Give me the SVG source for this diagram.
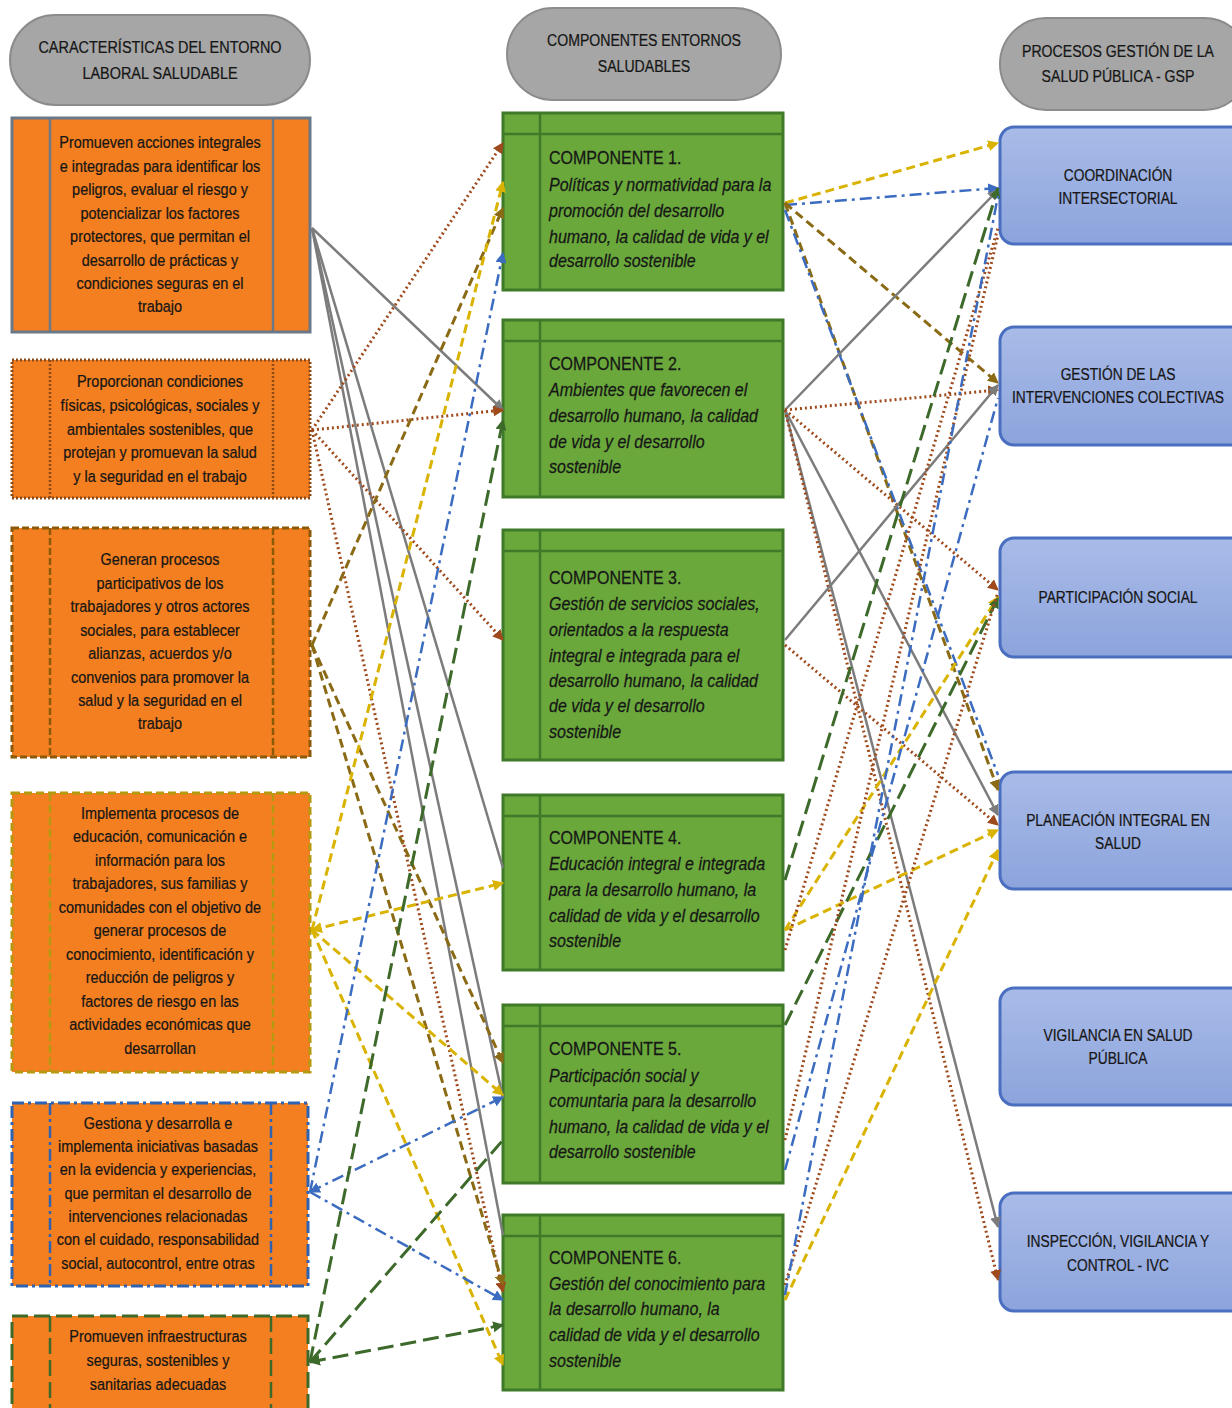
<svg xmlns="http://www.w3.org/2000/svg" width="1232" height="1408" viewBox="0 0 1232 1408">
<defs>
<style>
.t{font-family:"Liberation Sans",Arial,sans-serif;font-size:17px;fill:#161616;stroke:#161616;stroke-width:0.25;text-anchor:middle}
.tm{font-family:"Liberation Sans",Arial,sans-serif;font-size:18px;fill:#161616;stroke:#161616;stroke-width:0.25}
.it{font-style:italic}
.hdr{fill:#a6a6a6;stroke:#8c8c8c;stroke-width:2}
.or{fill:#f47f20}
.gr{fill:#6aa83c;stroke:#3f7a28;stroke-width:3}
.grl{stroke:#3f7a28;stroke-width:2.5;fill:none}
.bl{fill:url(#bg);stroke:#4a6fc0;stroke-width:3}
.g{stroke:#7c7c7c;stroke-width:2.5;fill:none}
.dot{stroke:#9e4a1c;stroke-width:3;stroke-dasharray:2 3;fill:none}
.od{stroke:#8a6a14;stroke-width:3;stroke-dasharray:9 5;fill:none}
.yd{stroke:#d9b300;stroke-width:3;stroke-dasharray:9 5;fill:none}
.bd{stroke:#3b6cc0;stroke-width:2.5;stroke-dasharray:12 5 3 5;fill:none}
.gd{stroke:#3d6a2a;stroke-width:3;stroke-dasharray:16 7;fill:none}
</style>
<linearGradient id="bg" x1="0" y1="0" x2="0" y2="1"><stop offset="0" stop-color="#a9bbe8"/><stop offset="1" stop-color="#8ca4dc"/></linearGradient>
<marker id="mg" viewBox="0 0 10 10" refX="9" refY="5" markerWidth="11" markerHeight="11" markerUnits="userSpaceOnUse" orient="auto-start-reverse"><path d="M0,0 L10,5 L0,10 z" fill="#7c7c7c"/></marker>
<marker id="mdot" viewBox="0 0 10 10" refX="9" refY="5" markerWidth="11" markerHeight="11" markerUnits="userSpaceOnUse" orient="auto-start-reverse"><path d="M0,0 L10,5 L0,10 z" fill="#9e4a1c"/></marker>
<marker id="mod" viewBox="0 0 10 10" refX="9" refY="5" markerWidth="11" markerHeight="11" markerUnits="userSpaceOnUse" orient="auto-start-reverse"><path d="M0,0 L10,5 L0,10 z" fill="#8a6a14"/></marker>
<marker id="myd" viewBox="0 0 10 10" refX="9" refY="5" markerWidth="11" markerHeight="11" markerUnits="userSpaceOnUse" orient="auto-start-reverse"><path d="M0,0 L10,5 L0,10 z" fill="#d9b300"/></marker>
<marker id="mbd" viewBox="0 0 10 10" refX="9" refY="5" markerWidth="11" markerHeight="11" markerUnits="userSpaceOnUse" orient="auto-start-reverse"><path d="M0,0 L10,5 L0,10 z" fill="#3b6cc0"/></marker>
<marker id="mgd" viewBox="0 0 10 10" refX="9" refY="5" markerWidth="11" markerHeight="11" markerUnits="userSpaceOnUse" orient="auto-start-reverse"><path d="M0,0 L10,5 L0,10 z" fill="#3d6a2a"/></marker>
</defs>
<rect width="1232" height="1408" fill="#ffffff"/>

<!-- headers -->
<g id="hdr-left">
<rect class="hdr" x="10" y="15" width="300" height="90" rx="45"/>
<text class="t" transform="matrix(0.85 0 0 1 160 0)"><tspan x="0" y="53">CARACTERÍSTICAS  DEL ENTORNO</tspan><tspan x="0" y="79">LABORAL  SALUDABLE</tspan></text>
</g>
<g id="hdr-mid">
<rect class="hdr" x="507" y="8" width="274" height="92" rx="46"/>
<text class="t" transform="matrix(0.83 0 0 1 644 0)"><tspan x="0" y="46">COMPONENTES ENTORNOS</tspan><tspan x="0" y="72">SALUDABLES</tspan></text>
</g>
<g id="hdr-right">
<rect class="hdr" x="1000" y="18" width="250" height="92" rx="46"/>
<text class="t" transform="matrix(0.83 0 0 1 1118 0)"><tspan x="0" y="57">PROCESOS GESTIÓN DE LA</tspan><tspan x="0" y="82">SALUD PÚBLICA - GSP</tspan></text>
</g>

<!-- left boxes -->
<g id="L1">
<rect class="or" x="12" y="118" width="298" height="214" stroke="#6b7888" stroke-width="3"/>
<path d="M50,118V332M273,118V332" stroke="#6b7888" stroke-width="2.5"/>
<text class="t" transform="matrix(0.85 0 0 1 160 0)"><tspan x="0" y="148">Promueven acciones integrales</tspan><tspan x="0" y="172">e integradas para identificar los</tspan><tspan x="0" y="195">peligros, evaluar el riesgo y</tspan><tspan x="0" y="219">potencializar los factores</tspan><tspan x="0" y="242">protectores, que permitan el</tspan><tspan x="0" y="266">desarrollo de prácticas y</tspan><tspan x="0" y="289">condiciones seguras en el</tspan><tspan x="0" y="312">trabajo</tspan></text>
</g>
<g id="L2">
<rect class="or" x="12" y="360" width="298" height="138" stroke="#8b4a1a" stroke-width="3" stroke-dasharray="2 2"/>
<path d="M50,360V498M273,360V498" stroke="#8b4a1a" stroke-width="2.5" stroke-dasharray="2 2"/>
<text class="t" transform="matrix(0.85 0 0 1 160 0)"><tspan x="0" y="387">Proporcionan condiciones</tspan><tspan x="0" y="411">físicas, psicológicas, sociales y</tspan><tspan x="0" y="435">ambientales sostenibles, que</tspan><tspan x="0" y="458">protejan y promuevan la salud</tspan><tspan x="0" y="482">y la seguridad en el trabajo</tspan></text>
</g>
<g id="L3">
<rect class="or" x="12" y="528" width="298" height="229" stroke="#8a5a08" stroke-width="3" stroke-dasharray="7 3"/>
<path d="M50,528V757M273,528V757" stroke="#8a5a08" stroke-width="2.5" stroke-dasharray="7 3"/>
<text class="t" transform="matrix(0.85 0 0 1 160 0)"><tspan x="0" y="565">Generan procesos</tspan><tspan x="0" y="589">participativos de los</tspan><tspan x="0" y="612">trabajadores y otros actores</tspan><tspan x="0" y="636">sociales, para establecer</tspan><tspan x="0" y="659">alianzas, acuerdos y/o</tspan><tspan x="0" y="683">convenios para promover la</tspan><tspan x="0" y="706">salud y la seguridad en el</tspan><tspan x="0" y="729">trabajo</tspan></text>
</g>
<g id="L4">
<rect class="or" x="12" y="793" width="298" height="279" stroke="#b39a10" stroke-width="3" stroke-dasharray="8 4"/>
<path d="M50,793V1072M273,793V1072" stroke="#b39a10" stroke-width="2.5" stroke-dasharray="8 4"/>
<text class="t" transform="matrix(0.85 0 0 1 160 0)"><tspan x="0" y="819">Implementa procesos de</tspan><tspan x="0" y="842">educación, comunicación e</tspan><tspan x="0" y="866">información para los</tspan><tspan x="0" y="889">trabajadores, sus familias y</tspan><tspan x="0" y="913">comunidades con el objetivo de</tspan><tspan x="0" y="936">generar procesos de</tspan><tspan x="0" y="960">conocimiento, identificación y</tspan><tspan x="0" y="983">reducción de peligros y</tspan><tspan x="0" y="1007">factores de riesgo en las</tspan><tspan x="0" y="1030">actividades económicas que</tspan><tspan x="0" y="1054">desarrollan</tspan></text>
</g>
<g id="L5">
<rect class="or" x="12" y="1103" width="296" height="183" stroke="#2f62b0" stroke-width="3" stroke-dasharray="12 4 3 4"/>
<path d="M50,1103V1286M271,1103V1286" stroke="#2f62b0" stroke-width="2.5" stroke-dasharray="12 4 3 4"/>
<text class="t" transform="matrix(0.85 0 0 1 158 0)"><tspan x="0" y="1129">Gestiona y desarrolla e</tspan><tspan x="0" y="1152">implementa iniciativas basadas</tspan><tspan x="0" y="1175">en la evidencia y experiencias,</tspan><tspan x="0" y="1199">que permitan el desarrollo de</tspan><tspan x="0" y="1222">intervenciones relacionadas</tspan><tspan x="0" y="1245">con el cuidado, responsabilidad</tspan><tspan x="0" y="1269">social, autocontrol, entre otras</tspan></text>
</g>
<g id="L6">
<rect class="or" x="12" y="1316" width="296" height="100" stroke="#3d6a2a" stroke-width="3" stroke-dasharray="16 6"/>
<path d="M50,1316V1408M271,1316V1408" stroke="#3d6a2a" stroke-width="2.5" stroke-dasharray="16 6"/>
<text class="t" transform="matrix(0.85 0 0 1 158 0)"><tspan x="0" y="1342">Promueven infraestructuras</tspan><tspan x="0" y="1366">seguras, sostenibles y</tspan><tspan x="0" y="1390">sanitarias adecuadas</tspan></text>
</g>

<!-- middle boxes -->
<g id="M1">
<rect class="gr" x="503" y="113" width="280" height="177"/>
<path class="grl" d="M503,134H783M540,113V290"/>
<text class="tm" transform="matrix(0.89 0 0 1 549 0)"><tspan x="0" y="164">COMPONENTE 1.</tspan><tspan class="it" x="0" y="191">Políticas y normatividad para la</tspan><tspan class="it" x="0" y="217">promoción del desarrollo</tspan><tspan class="it" x="0" y="243">humano, la calidad de vida y el</tspan><tspan class="it" x="0" y="267">desarrollo sostenible</tspan></text>
</g>
<g id="M2">
<rect class="gr" x="503" y="320" width="280" height="177"/>
<path class="grl" d="M503,341H783M540,320V497"/>
<text class="tm" transform="matrix(0.89 0 0 1 549 0)"><tspan x="0" y="370">COMPONENTE 2.</tspan><tspan class="it" x="0" y="396">Ambientes que favorecen el</tspan><tspan class="it" x="0" y="422">desarrollo humano, la calidad</tspan><tspan class="it" x="0" y="448">de vida y el desarrollo</tspan><tspan class="it" x="0" y="473">sostenible</tspan></text>
</g>
<g id="M3">
<rect class="gr" x="503" y="530" width="280" height="230"/>
<path class="grl" d="M503,551H783M540,530V760"/>
<text class="tm" transform="matrix(0.89 0 0 1 549 0)"><tspan x="0" y="584">COMPONENTE 3.</tspan><tspan class="it" x="0" y="610">Gestión de servicios sociales,</tspan><tspan class="it" x="0" y="636">orientados a la respuesta</tspan><tspan class="it" x="0" y="662">integral e integrada para el</tspan><tspan class="it" x="0" y="687">desarrollo humano, la calidad</tspan><tspan class="it" x="0" y="712">de vida y el desarrollo</tspan><tspan class="it" x="0" y="738">sostenible</tspan></text>
</g>
<g id="M4">
<rect class="gr" x="503" y="795" width="280" height="175"/>
<path class="grl" d="M503,816H783M540,795V970"/>
<text class="tm" transform="matrix(0.89 0 0 1 549 0)"><tspan x="0" y="844">COMPONENTE 4.</tspan><tspan class="it" x="0" y="870">Educación integral e integrada</tspan><tspan class="it" x="0" y="896">para la desarrollo humano, la</tspan><tspan class="it" x="0" y="922">calidad de vida y el desarrollo</tspan><tspan class="it" x="0" y="947">sostenible</tspan></text>
</g>
<g id="M5">
<rect class="gr" x="503" y="1005" width="280" height="178"/>
<path class="grl" d="M503,1026H783M540,1005V1183"/>
<text class="tm" transform="matrix(0.89 0 0 1 549 0)"><tspan x="0" y="1055">COMPONENTE 5.</tspan><tspan class="it" x="0" y="1082">Participación social y</tspan><tspan class="it" x="0" y="1107">comuntaria para la desarrollo</tspan><tspan class="it" x="0" y="1133">humano, la calidad de vida y el</tspan><tspan class="it" x="0" y="1158">desarrollo sostenible</tspan></text>
</g>
<g id="M6">
<rect class="gr" x="503" y="1215" width="280" height="175"/>
<path class="grl" d="M503,1236H783M540,1215V1390"/>
<text class="tm" transform="matrix(0.89 0 0 1 549 0)"><tspan x="0" y="1264">COMPONENTE 6.</tspan><tspan class="it" x="0" y="1290">Gestión del conocimiento para</tspan><tspan class="it" x="0" y="1315">la desarrollo humano, la</tspan><tspan class="it" x="0" y="1341">calidad de vida y el desarrollo</tspan><tspan class="it" x="0" y="1367">sostenible</tspan></text>
</g>

<!-- right boxes -->
<g id="R1">
<rect class="bl" x="1000" y="127" width="250" height="117" rx="14"/>
<text class="t" transform="matrix(0.81 0 0 1 1118 0)"><tspan x="0" y="181">COORDINACIÓN</tspan><tspan x="0" y="204">INTERSECTORIAL</tspan></text>
</g>
<g id="R2">
<rect class="bl" x="1000" y="327" width="250" height="118" rx="14"/>
<text class="t" transform="matrix(0.81 0 0 1 1118 0)"><tspan x="0" y="380">GESTIÓN DE LAS</tspan><tspan x="0" y="403">INTERVENCIONES COLECTIVAS</tspan></text>
</g>
<g id="R3">
<rect class="bl" x="1000" y="538" width="250" height="119" rx="14"/>
<text class="t" transform="matrix(0.81 0 0 1 1118 0)"><tspan x="0" y="603">PARTICIPACIÓN SOCIAL</tspan></text>
</g>
<g id="R4">
<rect class="bl" x="1000" y="772" width="250" height="117" rx="14"/>
<text class="t" transform="matrix(0.81 0 0 1 1118 0)"><tspan x="0" y="826">PLANEACIÓN INTEGRAL EN</tspan><tspan x="0" y="849">SALUD</tspan></text>
</g>
<g id="R5">
<rect class="bl" x="1000" y="988" width="250" height="117" rx="14"/>
<text class="t" transform="matrix(0.81 0 0 1 1118 0)"><tspan x="0" y="1041">VIGILANCIA EN SALUD</tspan><tspan x="0" y="1064">PÚBLICA</tspan></text>
</g>
<g id="R6">
<rect class="bl" x="1000" y="1193" width="250" height="118" rx="14"/>
<text class="t" transform="matrix(0.81 0 0 1 1118 0)"><tspan x="0" y="1247">INSPECCIÓN, VIGILANCIA Y</tspan><tspan x="0" y="1271">CONTROL - IVC</tspan></text>
</g>

<!-- connectors -->
<g id="connectors">
<line class="g" x1="312" y1="228" x2="503" y2="410" marker-end="url(#mg)"/>
<line class="g" x1="312" y1="228" x2="503" y2="868"/>
<line class="g" x1="312" y1="228" x2="503" y2="1098"/>
<line class="g" x1="312" y1="228" x2="503" y2="1235"/>
<line class="dot" x1="312" y1="430" x2="503" y2="143" marker-end="url(#mdot)"/>
<line class="dot" x1="312" y1="430" x2="503" y2="410" marker-end="url(#mdot)"/>
<line class="dot" x1="312" y1="430" x2="503" y2="640" marker-end="url(#mdot)"/>
<line class="dot" x1="312" y1="430" x2="503" y2="1292" marker-end="url(#mdot)"/>
<line class="od" x1="312" y1="645" x2="503" y2="208" marker-end="url(#mod)"/>
<line class="od" x1="312" y1="645" x2="503" y2="1063" marker-end="url(#mod)"/>
<line class="od" x1="312" y1="645" x2="503" y2="1285" marker-end="url(#mod)"/>
<line class="yd" x1="312" y1="930" x2="503" y2="182" marker-end="url(#myd)"/>
<line class="yd" x1="312" y1="930" x2="503" y2="883" marker-start="url(#myd)" marker-end="url(#myd)"/>
<line class="yd" x1="312" y1="930" x2="503" y2="1095" marker-end="url(#myd)"/>
<line class="yd" x1="312" y1="930" x2="503" y2="1365" marker-end="url(#myd)"/>
<line class="bd" x1="310" y1="1192" x2="503" y2="253" marker-end="url(#mbd)"/>
<line class="bd" x1="310" y1="1192" x2="503" y2="1097" marker-start="url(#mbd)" marker-end="url(#mbd)"/>
<line class="bd" x1="310" y1="1192" x2="503" y2="1300" marker-end="url(#mbd)"/>
<line class="gd" x1="310" y1="1362" x2="503" y2="420" marker-end="url(#mgd)"/>
<line class="gd" x1="310" y1="1362" x2="503" y2="1140"/>
<line class="gd" x1="310" y1="1362" x2="503" y2="1325" marker-start="url(#mgd)" marker-end="url(#mgd)"/>

<line class="yd" x1="785" y1="203" x2="998" y2="143" marker-end="url(#myd)"/>
<line class="bd" x1="785" y1="205" x2="998" y2="188" marker-end="url(#mbd)"/>
<line class="od" x1="785" y1="203" x2="998" y2="383" marker-end="url(#mod)"/>
<line class="od" x1="785" y1="203" x2="998" y2="790" marker-end="url(#mod)"/>
<line class="bd" x1="785" y1="210" x2="998" y2="775"/>
<line class="g" x1="785" y1="410" x2="998" y2="190" marker-end="url(#mg)"/>
<line class="dot" x1="785" y1="410" x2="998" y2="390" marker-end="url(#mdot)"/>
<line class="dot" x1="785" y1="410" x2="998" y2="590" marker-end="url(#mdot)"/>
<line class="g" x1="785" y1="410" x2="998" y2="815" marker-end="url(#mg)"/>
<line class="g" x1="785" y1="410" x2="998" y2="1227" marker-end="url(#mg)"/>
<line class="dot" x1="785" y1="410" x2="998" y2="1280" marker-end="url(#mdot)"/>
<line class="g" x1="785" y1="640" x2="998" y2="385" marker-end="url(#mg)"/>
<line class="dot" x1="785" y1="645" x2="998" y2="825" marker-end="url(#mdot)"/>
<line class="yd" x1="785" y1="930" x2="998" y2="830" marker-end="url(#myd)"/>
<line class="yd" x1="785" y1="930" x2="998" y2="597" marker-end="url(#myd)"/>
<line class="gd" x1="785" y1="880" x2="998" y2="188" marker-end="url(#mgd)"/>
<line class="dot" x1="785" y1="950" x2="998" y2="228"/>
<line class="gd" x1="785" y1="1025" x2="998" y2="598" marker-end="url(#mgd)"/>
<line class="bd" x1="785" y1="1170" x2="998" y2="398"/>
<line class="dot" x1="785" y1="1140" x2="998" y2="235"/>
<line class="yd" x1="785" y1="1300" x2="998" y2="850" marker-end="url(#myd)"/>
<line class="dot" x1="785" y1="1285" x2="998" y2="592"/>
<line class="bd" x1="785" y1="1295" x2="998" y2="196"/>
</g>
</svg>
